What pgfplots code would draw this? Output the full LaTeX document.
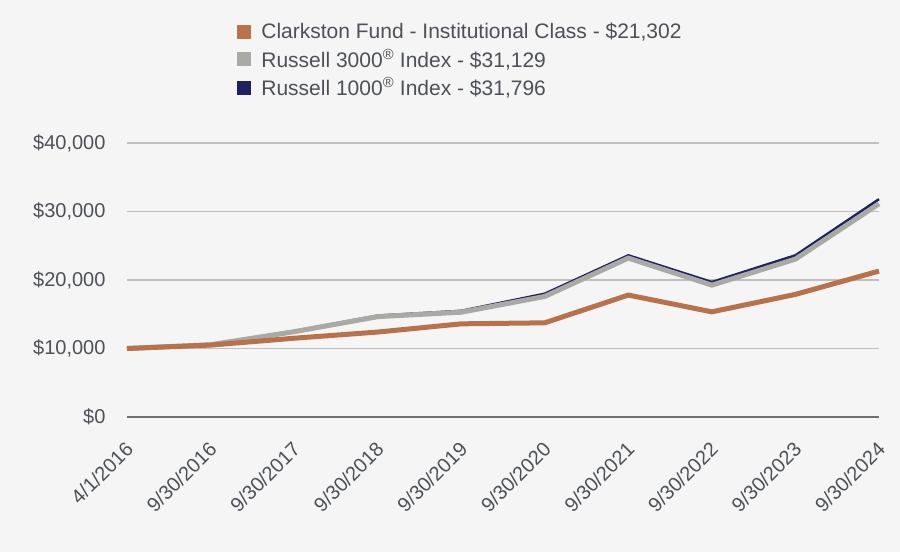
\documentclass[border=0pt]{standalone}
\usepackage{pgfplots}
\pgfplotsset{compat=1.18}
\usepackage{fontspec}
\setmainfont{Liberation Sans}
\definecolor{bg}{HTML}{F5F5F5}
\definecolor{cfund}{HTML}{B87148}
\definecolor{rthree}{HTML}{A9AAA5}
\definecolor{rone}{HTML}{1F2060}
\definecolor{txt}{HTML}{4D5157}
\definecolor{grid}{HTML}{C0C0C0}
\definecolor{axl}{HTML}{707070}
\begin{document}
\begin{tikzpicture}[x=1pt,y=1pt]
\fill[bg] (0,0) rectangle (900,552);
\useasboundingbox (0,0) rectangle (900,552);
\begin{axis}[
  at={(127pt,135pt)}, anchor=south west,
  scale only axis, width=752pt, height=274pt,
  xmin=0, xmax=9, ymin=0, ymax=40000,
  axis line style={draw=none},
  axis x line*=bottom, axis y line*=left,
  scaled y ticks=false,
  xtick={0,...,9},
  xticklabels={4/1/2016,9/30/2016,9/30/2017,9/30/2018,9/30/2019,9/30/2020,9/30/2021,9/30/2022,9/30/2023,9/30/2024},
  ytick={0,10000,20000,30000,40000},
  yticklabels={{\$0},{\$10,000},{\$20,000},{\$30,000},{\$40,000}},
  major tick length=0pt,
  ymajorgrids, grid style={draw=grid, line width=1.5pt},
  x tick label style={rotate=45, anchor=north east, xshift=-15pt, yshift=-11pt, font=\fontsize{20}{22}\selectfont},
  yticklabel style={xshift=-18pt, font=\fontsize{20}{22}\selectfont},
  tick label style={text=txt},
  legend style={at={(0.146,1.445)}, anchor=north west, draw=none, fill=none,
    font=\fontsize{21}{24}\selectfont, text=txt, row sep=5pt, inner sep=0pt,
    column sep=9pt},
  legend cell align=left,
  legend image code/.code={\fill[#1] (0pt,-6.5pt) rectangle (13pt,6.5pt);},
  clip=false,
]
\draw[axl, line width=1.5pt] (axis cs:0,0) -- (axis cs:9,0);
\addplot[rone, line width=2.5pt, forget plot] coordinates {
(0,10000)(1,10600)(2,12550)(3,14800)(4,15500)(5,18000)(6,23600)(7,19700)(8,23600)(9,31796)};
\addplot[rthree, line width=5pt, forget plot] coordinates {
(0,10000)(1,10550)(2,12450)(3,14650)(4,15300)(5,17600)(6,23200)(7,19250)(8,23050)(9,31129)};
\addplot[cfund, line width=5pt, forget plot] coordinates {
(0,10000)(1,10500)(2,11500)(3,12400)(4,13600)(5,13750)(6,17800)(7,15350)(8,17900)(9,21302)};
\addlegendimage{cfund}
\addlegendentry{Clarkston Fund - Institutional Class - \$21,302}
\addlegendimage{rthree}
\addlegendentry{Russell 3000\textsuperscript{®} Index - \$31,129}
\addlegendimage{rone}
\addlegendentry{Russell 1000\textsuperscript{®} Index - \$31,796}
\end{axis}
\end{tikzpicture}
\end{document}
